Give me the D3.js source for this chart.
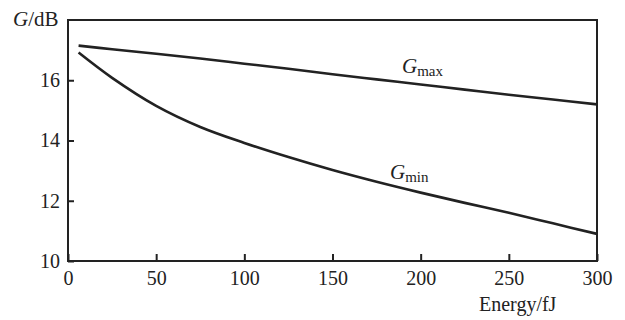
<!DOCTYPE html>
<html><head><meta charset="utf-8">
<script src="https://cdn.jsdelivr.net/npm/d3@7"></script>
<style>body{margin:0;background:#fff}svg{display:block}text{font-family:"Liberation Serif","Times New Roman",serif;fill:#222}</style>
</head><body><svg id="c" width="625" height="320"></svg>
<script>
const energy = [6, 25, 50, 75, 100, 125, 150, 175, 200, 225, 250, 275, 300];
const gMax = [17.15, 17.03, 16.88, 16.72, 16.55, 16.38, 16.2, 16.03, 15.86, 15.69, 15.52, 15.36, 15.2];
const gMin = [16.92, 16.08, 15.15, 14.45, 13.92, 13.45, 13.02, 12.63, 12.27, 11.93, 11.6, 11.25, 10.9];
const xTicks = [0, 50, 100, 150, 200, 250, 300];
const yTicks = [10, 12, 14, 16];

const svg = d3.select("#c");
const L = 68, R = 597, T = 20, B = 261;
const x = d3.scaleLinear().domain([0, 300]).range([L, R]);
const y = d3.scaleLinear().domain([10, 18]).range([B, T]);
const col = "#222";

svg.append("rect").attr("x", L).attr("y", T).attr("width", R - L).attr("height", B - T)
  .attr("fill", "none").attr("stroke", col).attr("stroke-width", 2);

const xAxis = svg.append("g").attr("transform", `translate(0,${B})`)
  .call(d3.axisBottom(x).tickValues(xTicks).tickSizeInner(-7).tickSizeOuter(0).tickPadding(10));
const yAxis = svg.append("g").attr("transform", `translate(${L},0)`)
  .call(d3.axisLeft(y).tickValues(yTicks).tickSizeInner(-6).tickSizeOuter(0).tickPadding(8));
[xAxis, yAxis].forEach(a => {
  a.select(".domain").remove();
  a.selectAll("line").attr("stroke", col).attr("stroke-width", 2);
  a.selectAll("text").attr("font-size", 20).attr("font-family", "Liberation Serif").attr("fill", col);
});
xAxis.selectAll("text").attr("dy", "0.71em");
yAxis.selectAll("text").attr("dy", "0.32em");

const line = d3.line().x((d, i) => x(energy[i])).y(d => y(d)).curve(d3.curveCatmullRom.alpha(0.5));
[gMax, gMin].forEach(s => {
  svg.append("path").attr("d", line(s)).attr("fill", "none").attr("stroke", col).attr("stroke-width", 2.6);
});

const yt = svg.append("text").attr("x", 13).attr("y", 26).attr("font-size", 21);
yt.append("tspan").attr("font-style", "italic").text("G");
yt.append("tspan").text("/dB");
svg.append("text").attr("x", 479).attr("y", 311).attr("font-size", 20).text("Energy/fJ");

function lab(xp, yp, sub) {
  const t = svg.append("text").attr("x", xp).attr("y", yp).attr("font-size", 21);
  t.append("tspan").attr("font-style", "italic").text("G");
  t.append("tspan").attr("font-size", 15).attr("dy", 3).text(sub);
}
lab(402, 73, "max");
lab(390, 179, "min");
</script></body></html>
